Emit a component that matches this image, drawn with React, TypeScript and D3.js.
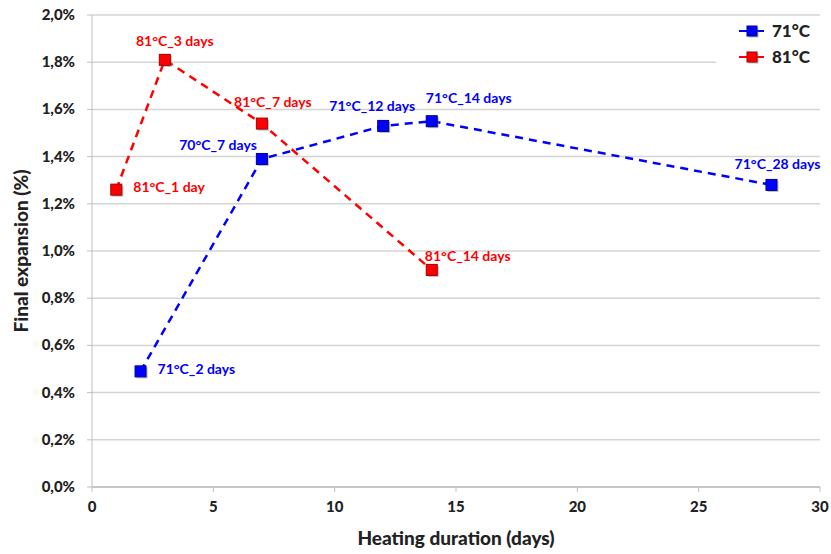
import React from "react";
import * as d3 from "d3";

const days71 = [2, 7, 12, 14, 28];
const exp71 = [0.49, 1.39, 1.53, 1.55, 1.28];
const labels71 = ["71°C_2 days", "70°C_7 days", "71°C_12 days", "71°C_14 days", "71°C_28 days"];
const days81 = [1, 3, 7, 14];
const exp81 = [1.26, 1.81, 1.54, 0.92];
const labels81 = ["81°C_1 day", "81°C_3 days", "81°C_7 days", "81°C_14 days"];
const xTicks = [0, 5, 10, 15, 20, 25, 30];
const yTicks = [0, 0.2, 0.4, 0.6, 0.8, 1.0, 1.2, 1.4, 1.6, 1.8, 2.0];
const seriesNames = ["71°C", "81°C"];

// label offsets (dx, dy of text centre, anchor) relative to point
const off71: [number, number, string][] = [
  [17, -2, "start"],
  [-5, -14, "end"],
  [-11, -20, "middle"],
  [37, -23, "middle"],
  [6, -21, "middle"],
];
const off81: [number, number, string][] = [
  [17, -3, "start"],
  [10, -19, "middle"],
  [11, -22, "middle"],
  [36, -14, "middle"],
];

const W = 831, H = 554;
const FONT = "Lato, 'Open Sans', sans-serif";

export default function App() {
  const x = d3.scaleLinear().domain([0, 30]).range([92, 820]);
  const y = d3.scaleLinear().domain([0, 2.0]).range([487, 15]);
  const line = d3.line<[number, number]>().x((d) => x(d[0])).y((d) => y(d[1]));
  const s71 = days71.map((d, i) => [d, exp71[i]] as [number, number]);
  const s81 = days81.map((d, i) => [d, exp81[i]] as [number, number]);
  const blue = "#0000ff", red = "#ff0000";
  const fmt = (v: number) => v.toFixed(1).replace(".", ",") + "%";
  const marker = (cx: number, cy: number, fill: string, key: string, size = 11) => (
    <g key={key}>
      <rect x={cx - size / 2 + 1.5} y={cy - size / 2 + 1.5} width={size} height={size} fill="#777" opacity={0.5} />
      <rect x={cx - size / 2} y={cy - size / 2} width={size} height={size} fill={fill} stroke={fill === blue ? "#000090" : "#a00000"} strokeWidth={1} />
    </g>
  );
  return (
    <svg width={W} height={H} style={{ position: "absolute", left: 0, top: 0, background: "#fff" }} fontFamily={FONT}>
      <rect width={W} height={H} fill="#fff" />
      {yTicks.map((t) => (
        <line key={"g" + t} x1={x(0)} x2={x(30)} y1={y(t)} y2={y(t)} stroke="#d4d4d4" strokeWidth={1.5} />
      ))}
      <line x1={x(0)} x2={x(0)} y1={y(2.0)} y2={y(0)} stroke="#bfbfbf" strokeWidth={1} />
      <line x1={x(0)} x2={x(30)} y1={y(0)} y2={y(0)} stroke="#bfbfbf" strokeWidth={1.5} />
      {xTicks.map((t) => (
        <g key={"x" + t}>
          <line x1={x(t)} x2={x(t)} y1={y(0)} y2={y(0) + 5} stroke="#bfbfbf" strokeWidth={1} />
          <text x={x(t)} y={y(0) + 25} textAnchor="middle" fontSize={15} fontWeight="900" fill="#222">{t}</text>
        </g>
      ))}
      {yTicks.map((t) => (
        <g key={"y" + t}>
          <line x1={x(0) - 5} x2={x(0)} y1={y(t)} y2={y(t)} stroke="#bfbfbf" strokeWidth={1} />
          <text x={x(0) - 17} y={y(t) + 5} textAnchor="end" fontSize={15} fontWeight="900" fill="#222">{fmt(t)}</text>
        </g>
      ))}
      <text x={456} y={545} textAnchor="middle" fontSize={19} fontWeight="900" fill="#222">Heating duration (days)</text>
      <text transform={`translate(28,251) rotate(-90)`} textAnchor="middle" fontSize={19} fontWeight="900" fill="#222">Final expansion (%)</text>

      <path d={line(s71) || ""} fill="none" stroke={blue} strokeWidth={2.5} strokeDasharray="8,6" />
      <path d={line(s81) || ""} fill="none" stroke={red} strokeWidth={2.5} strokeDasharray="8,6" />
      {s71.map((p, i) => marker(x(p[0]), y(p[1]), blue, "m71" + i))}
      {s81.map((p, i) => marker(x(p[0]), y(p[1]), red, "m81" + i))}
      {s71.map((p, i) => (
        <text key={"l71" + i} x={x(p[0]) + off71[i][0]} y={y(p[1]) + off71[i][1] + 5} textAnchor={off71[i][2] as any} fontSize={14} fontWeight="bold" fill={blue}>{labels71[i]}</text>
      ))}
      {s81.map((p, i) => (
        <text key={"l81" + i} x={x(p[0]) + off81[i][0]} y={y(p[1]) + off81[i][1] + 5} textAnchor={off81[i][2] as any} fontSize={14} fontWeight="bold" fill={red}>{labels81[i]}</text>
      ))}

      <rect x={716} y={20} width={104} height={52} fill="#fff" />
      {seriesNames.map((n, i) => {
        const c = i === 0 ? blue : red;
        const ly = 31 + i * 26;
        return (
          <g key={"lg" + i}>
            <line x1={739} x2={764} y1={ly} y2={ly} stroke={c} strokeWidth={2} />
            {marker(752, ly, c, "lgm" + i, 10)}
            <text x={772} y={ly + 6} fontSize={17} fontWeight="900" fill="#222">{n}</text>
          </g>
        );
      })}
    </svg>
  );
}
